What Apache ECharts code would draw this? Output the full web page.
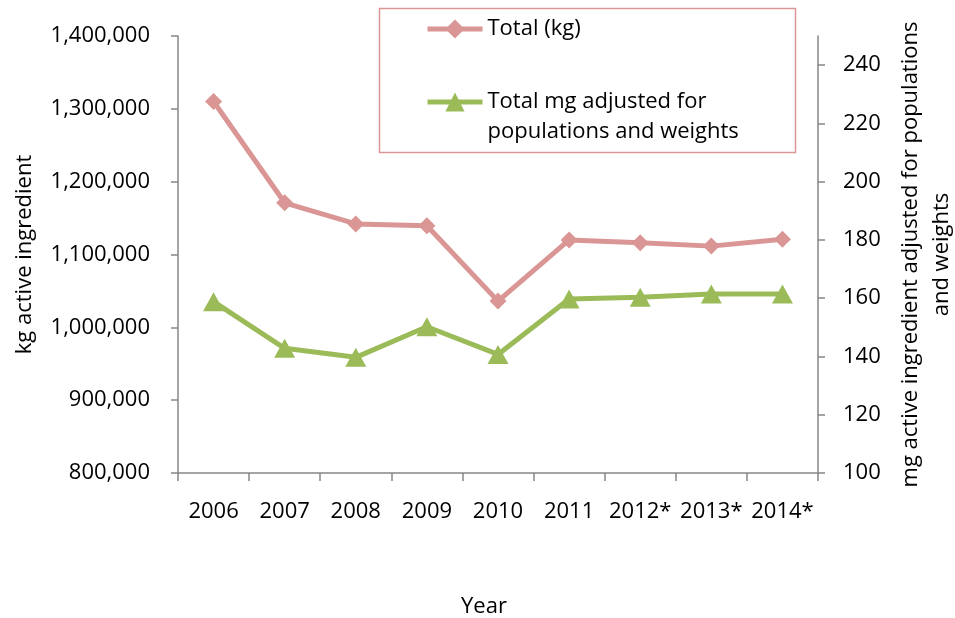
<!DOCTYPE html>
<html>
<head>
<meta charset="utf-8">
<script src="https://cdn.jsdelivr.net/npm/echarts@6/dist/echarts.min.js"></script>
<style>
html,body{margin:0;padding:0;background:#fff;}
#chart{width:955px;height:618px;}
</style>
</head>
<body>
<div id="chart"></div>
<script>
var years = ['2006','2007','2008','2009','2010','2011','2012*','2013*','2014*'];
var totalKg = [1310000,1171000,1142000,1139500,1036000,1120000,1116000,1111500,1121000];
var totalMgAdj = [158.8,142.8,139.7,150.2,140.7,159.7,160.3,161.4,161.4];
var leftTicks = [800000,900000,1000000,1100000,1200000,1300000,1400000];
var rightTicks = [100,120,140,160,180,200,220,240];
var nameKg = 'Total (kg)';
var nameMg = 'Total mg adjusted for populations and weights';

var FONT = 'Open Sans';
var AXIS = '#868686';
var RED = '#D99694';
var GREEN = '#9BBB59';

var chart = echarts.init(document.getElementById('chart'), null, {renderer:'canvas'});
chart.setOption({
  animation: false,
  textStyle: {fontFamily: FONT, color: '#000'},
  grid: {left: 178, right: 137, top: 36, bottom: 145, containLabel: false, outerBoundsMode: 'none'},
  graphic: [{
    type: 'rect', shape: {x: 379.5, y: 8.5, width: 416, height: 144},
    style: {fill: 'none', stroke: RED, lineWidth: 1.5}, z: 0
  }],
  legend: [{
    data: [nameKg], left: 425, top: 14, padding: 0,
    itemWidth: 55, itemHeight: 24, itemGap: 5,
    lineStyle: {width: 5},
    textStyle: {fontFamily: FONT, fontSize: 22, color: '#000', lineHeight: 30}
  }, {
    data: [nameMg], left: 425, top: 57, padding: 0,
    itemWidth: 55, itemHeight: 24, itemGap: 5,
    lineStyle: {width: 5},
    formatter: function(){ return '\nTotal mg adjusted for\npopulations and weights'; },
    textStyle: {fontFamily: FONT, fontSize: 22, color: '#000', lineHeight: 30}
  }],
  xAxis: {
    type: 'category', data: years, boundaryGap: true,
    name: 'Year', nameLocation: 'middle', nameGap: 123,
    nameTextStyle: {fontFamily: FONT, fontSize: 22, color: '#000', padding: [0,28,0,0]},
    axisLine: {onZero: false, lineStyle: {color: AXIS, width: 1.5}},
    axisTick: {show: true, interval: 0, length: 8, lineStyle: {color: AXIS, width: 1.5}},
    axisLabel: {interval: 0, margin: 28, fontFamily: FONT, fontSize: 22, color: '#000'},
    splitLine: {show: false}
  },
  yAxis: [{
    type: 'value', position: 'left', min: 800000, max: 1400000, interval: 100000,
    name: 'kg active ingredient', nameLocation: 'middle', nameRotate: 90, nameGap: 136,
    nameTextStyle: {fontFamily: FONT, fontSize: 22, color: '#000', lineHeight: 30},
    axisLine: {show: true, lineStyle: {color: AXIS, width: 1.5}},
    axisTick: {show: true, length: 7, lineStyle: {color: AXIS, width: 1.5}, customValues: leftTicks},
    axisLabel: {margin: 28, fontFamily: FONT, fontSize: 22, color: '#000', customValues: leftTicks,
      formatter: function(v){ return Number(v).toLocaleString('en-US'); }},
    splitLine: {show: false}
  }, {
    type: 'value', position: 'right', min: 100, max: 250, interval: 20,
    name: 'mg active ingredient adjusted for populations\nand weights',
    nameLocation: 'middle', nameRotate: 90, nameGap: 77,
    nameTextStyle: {fontFamily: FONT, fontSize: 22, color: '#000', lineHeight: 31, align: 'center'},
    axisLine: {show: true, lineStyle: {color: AXIS, width: 1.5}},
    axisTick: {show: true, length: 7, lineStyle: {color: AXIS, width: 1.5}, customValues: rightTicks},
    axisLabel: {margin: 25, fontFamily: FONT, fontSize: 22, color: '#000', customValues: rightTicks},
    splitLine: {show: false}
  }],
  series: [{
    name: nameKg, type: 'line', yAxisIndex: 0, data: totalKg,
    symbol: 'diamond', symbolSize: 17,
    lineStyle: {color: RED, width: 5},
    itemStyle: {color: RED}
  }, {
    name: nameMg, type: 'line', yAxisIndex: 1, data: totalMgAdj,
    symbol: 'triangle', symbolSize: [21, 19],
    lineStyle: {color: GREEN, width: 5},
    itemStyle: {color: GREEN}
  }]
});
</script>
</body>
</html>
